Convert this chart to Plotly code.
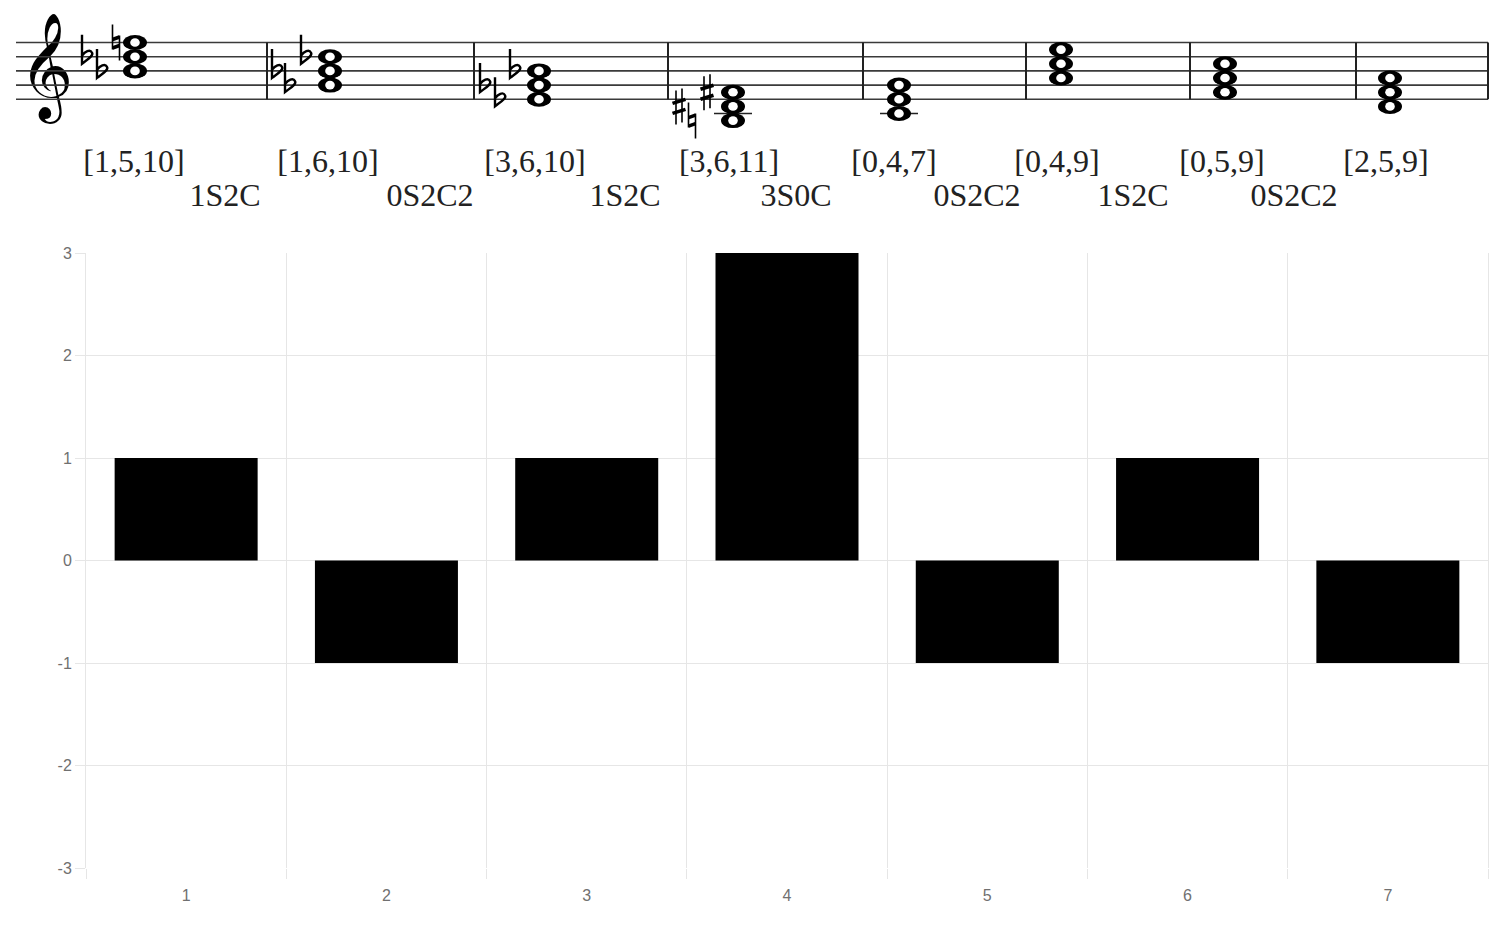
import plotly.graph_objects as go

# chart data
categories = ["1", "2", "3", "4", "5", "6", "7"]
values = [1, -1, 1, 3, -1, 1, -1]
y_ticks = [-3, -2, -1, 0, 1, 2, 3]
y_tick_labels = ["-3", "-2", "-1", "0", "1", "2", "3"]

# staff data: chords as pitch-class sets, notes as staff steps (0 = bottom line E4)
chord_labels = ["[1,5,10]", "[1,6,10]", "[3,6,10]", "[3,6,11]",
                "[0,4,7]", "[0,4,9]", "[0,5,9]", "[2,5,9]"]
transition_labels = ["1S2C", "0S2C2", "1S2C", "3S0C", "0S2C2", "1S2C", "0S2C2"]
chord_steps = [[4, 6, 8], [2, 4, 6], [0, 2, 4], [-3, -1, 1],
               [-2, 0, 2], [3, 5, 7], [1, 3, 5], [-1, 1, 3]]
acc_kinds = [["flat", "flat", "natural"], ["flat", "flat", "flat"],
             ["flat", "flat", "flat"], ["sharp", "natural", "sharp"],
             [], [], [], []]
acc_steps = [[6, 4, 8], [4, 2, 6], [2, 0, 4], [-1, -3, 1], [], [], [], []]

# staff layout, in page pixels
chord_x = [135, 330, 539, 733, 899, 1061, 1225, 1390]
acc_x = [[86, 101, 116], [276, 289, 305], [484, 499, 514], [679, 692, 707],
         [], [], [], []]
label_x = [134, 328, 535, 729, 894, 1057, 1222, 1386]
trans_x = [225, 430, 625, 796, 977, 1133, 1294]
bar_lines = [267, 474, 668, 863, 1026, 1190, 1356, 1488]
staff_x0, staff_x1 = 16, 1488
bottom_line, step_px = 99.3, 7.1


def step_y(s):
    return bottom_line - step_px * s


# the page body adds an 8px margin round the figure
OFF = 8
W, H = 1506 - 2 * OFF, 925 - 2 * OFF
GRID = "#e6e6e6"
SERIF = "Liberation Serif"
TICKFONT = dict(family="Liberation Sans", size=16, color="#707070")


def pth(*segs):
    return " ".join(segs)


def accidental(kind, cx, cy):
    """thin stems + thick bars (or bowl) for one accidental, as path shapes"""
    P = lambda dx, dy: f"{cx + dx:.1f},{cy + dy:.1f}"
    if kind == "flat":
        return [(pth(f"M{P(-4, -22)}", f"L{P(-4, 7)}",
                     f"C{P(1, 3)} {P(8, -1)} {P(6, -4)}",
                     f"C{P(4, -8)} {P(-1, -5)} {P(-4, -1)}"), 2.4)]
    if kind == "sharp":
        return [(pth(f"M{P(-3, -16)}", f"L{P(-3, 18)}",
                     f"M{P(3, -18)}", f"L{P(3, 16)}"), 1.6),
                (pth(f"M{P(-6.5, -3)}", f"L{P(6.5, -7)}",
                     f"M{P(-6.5, 7)}", f"L{P(6.5, 3)}"), 3.6)]
    # natural
    return [(pth(f"M{P(-3.5, -18)}", f"L{P(-3.5, 7)}",
                 f"M{P(3.5, -7)}", f"L{P(3.5, 18)}"), 1.6),
            (pth(f"M{P(-3.5, -3)}", f"L{P(3.5, -5.5)}",
                 f"M{P(-3.5, 5.5)}", f"L{P(3.5, 3)}"), 3.6)]


fig = go.Figure()

fig.add_trace(go.Bar(
    x=categories, y=values,
    marker=dict(color="black", line=dict(width=0)),
    xaxis="x", yaxis="y", hoverinfo="x+y"))

shapes = []
# staff lines
for s in [0, 2, 4, 6, 8]:
    shapes.append(dict(type="line", xref="x2", yref="y2",
                       x0=staff_x0, x1=staff_x1, y0=step_y(s), y1=step_y(s),
                       line=dict(color="#3a3a3a", width=1.6)))
for bx in bar_lines:
    shapes.append(dict(type="line", xref="x2", yref="y2",
                       x0=bx, x1=bx, y0=step_y(0), y1=step_y(8),
                       line=dict(color="#222", width=2)))
# ledger lines
for cx, steps in zip(chord_x, chord_steps):
    low = min(steps)
    for ls in range(-2, low - 1, -2):
        shapes.append(dict(type="line", xref="x2", yref="y2",
                           x0=cx - 19, x1=cx + 19, y0=step_y(ls), y1=step_y(ls),
                           line=dict(color="#222", width=1.6)))
# whole notes: black oval with a white hole
for cx, steps in zip(chord_x, chord_steps):
    for s in steps:
        y = step_y(s)
        shapes.append(dict(type="circle", xref="x2", yref="y2",
                           x0=cx - 12, x1=cx + 12, y0=y - 7.5, y1=y + 7.5,
                           fillcolor="black", line=dict(width=0)))
for cx, steps in zip(chord_x, chord_steps):
    for s in steps:
        y = step_y(s)
        shapes.append(dict(type="circle", xref="x2", yref="y2",
                           x0=cx - 4.8, x1=cx + 4.8, y0=y - 4.3, y1=y + 4.3,
                           fillcolor="white", line=dict(width=0)))
# accidentals
for xs, ss, ks in zip(acc_x, acc_steps, acc_kinds):
    for x, s, k in zip(xs, ss, ks):
        for path, lw in accidental(k, x, step_y(s)):
            shapes.append(dict(type="path", xref="x2", yref="y2", path=path,
                               fillcolor="rgba(0,0,0,0)",
                               line=dict(color="black", width=lw)))

# treble clef
fig.add_trace(go.Scatter(
    x=[46], y=[74], text=["𝄞"], mode="text", xaxis="x2", yaxis="y2",
    textfont=dict(family="DejaVu Sans", size=92, color="black"),
    hoverinfo="skip"))

# chord and transition labels
fig.add_trace(go.Scatter(
    x=label_x, y=[164] * len(label_x), text=chord_labels, mode="text",
    xaxis="x2", yaxis="y2",
    textfont=dict(family=SERIF, size=32, color="#222"), hoverinfo="skip"))
fig.add_trace(go.Scatter(
    x=trans_x, y=[198] * len(trans_x), text=transition_labels, mode="text",
    xaxis="x2", yaxis="y2",
    textfont=dict(family=SERIF, size=32, color="#222"), hoverinfo="skip"))

fig.update_layout(
    width=W, height=H,
    margin=dict(l=0, r=0, t=0, b=0),
    paper_bgcolor="white", plot_bgcolor="white",
    showlegend=False,
    bargap=0.286,
    shapes=shapes,
    xaxis=dict(
        domain=[(86 - OFF) / W, (1488 - OFF) / W], anchor="y",
        type="category", tickson="boundaries",
        showgrid=True, gridcolor=GRID, gridwidth=1,
        ticks="outside", ticklen=10, tickcolor=GRID,
        ticklabelstandoff=16,
        tickfont=TICKFONT, automargin=False, fixedrange=True),
    yaxis=dict(
        domain=[(925 - OFF - 868) / H, (925 - OFF - 253) / H], anchor="x",
        range=[-3, 3], tickvals=y_ticks, ticktext=y_tick_labels,
        showgrid=True, gridcolor=GRID, gridwidth=1,
        zeroline=True, zerolinecolor=GRID, zerolinewidth=1,
        showline=True, linecolor=GRID, linewidth=1, mirror=True,
        ticks="outside", ticklen=10, tickcolor=GRID,
        tickfont=TICKFONT, automargin=False, fixedrange=True),
    # staff axes in page pixels
    xaxis2=dict(domain=[0, 1], anchor="y2", range=[OFF, OFF + W],
                visible=False, fixedrange=True),
    yaxis2=dict(domain=[(H - 205) / H, 1], anchor="x2", range=[OFF + 205, OFF],
                visible=False, fixedrange=True),
)

fig.write_html("out.html")
